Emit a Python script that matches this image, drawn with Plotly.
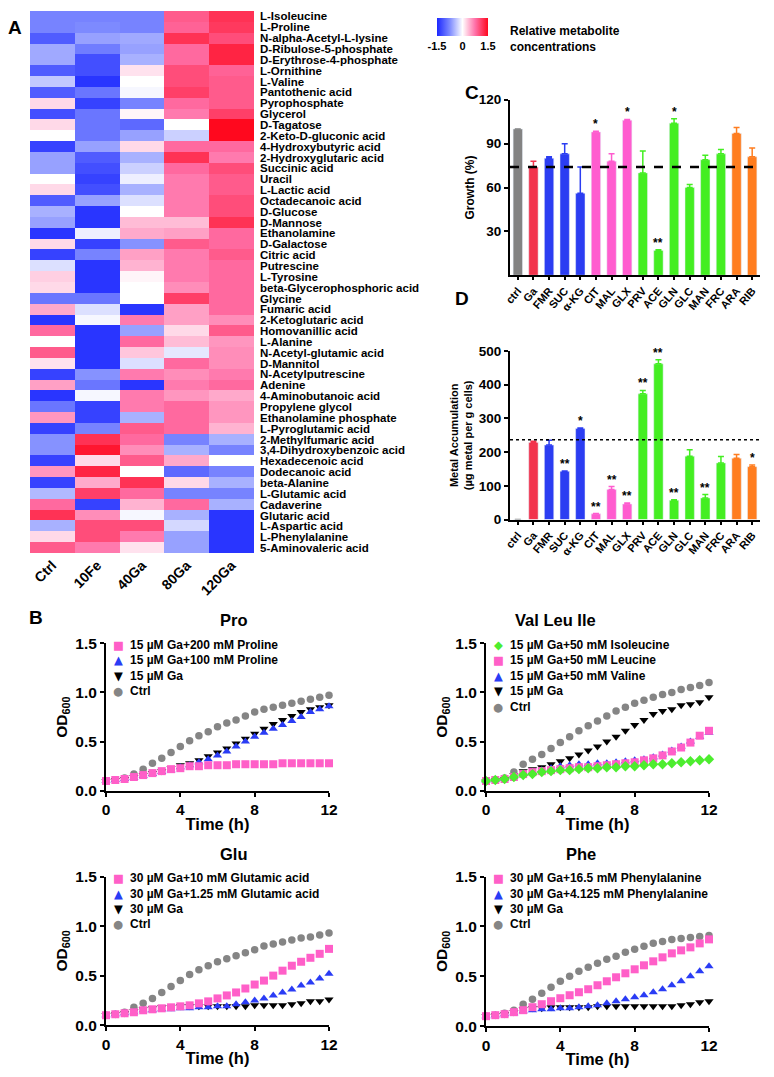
import plotly.graph_objects as go

PAGE_W, PAGE_H = 774, 1077
OFF = 8  # the page body margin shifts the figure by 8 px
W, H = PAGE_W - OFF, PAGE_H - OFF

# ---------------- A: heatmap ----------------
conditions = ["Ctrl", "10Fe", "40Ga", "80Ga", "120Ga"]
metabolites = [
    "L-Isoleucine", "L-Proline", "N-alpha-Acetyl-L-lysine", "D-Ribulose-5-phosphate",
    "D-Erythrose-4-phosphate", "L-Ornithine", "L-Valine", "Pantothenic acid",
    "Pyrophosphate", "Glycerol", "D-Tagatose", "2-Keto-D-gluconic acid",
    "4-Hydroxybutyric acid", "2-Hydroxyglutaric acid", "Succinic acid", "Uracil",
    "L-Lactic acid", "Octadecanoic acid", "D-Glucose", "D-Mannose", "Ethanolamine",
    "D-Galactose", "Citric acid", "Putrescine", "L-Tyrosine",
    "beta-Glycerophosphoric acid", "Glycine", "Fumaric acid", "2-Ketoglutaric acid",
    "Homovanillic acid", "L-Alanine", "N-Acetyl-glutamic acid", "D-Mannitol",
    "N-Acetylputrescine", "Adenine", "4-Aminobutanoic acid", "Propylene glycol",
    "Ethanolamine phosphate", "L-Pyroglutamic acid", "2-Methylfumaric acid",
    "3,4-Dihydroxybenzoic acid", "Hexadecenoic acid", "Dodecanoic acid", "beta-Alanine",
    "L-Glutamic acid", "Cadaverine", "Glutaric acid", "L-Aspartic acid",
    "L-Phenylalanine", "5-Aminovaleric acid",
]
ctrl_z = [-0.8, -0.8, -1.1, -0.55, -0.55, -1.1, -0.35, -1.1, 0.2, -1.2,
          0.2, 0.0, -1.3, -0.6, -0.6, 0.0, 0.2, -1.1, -0.5, -0.6,
          -1.4, 0.2, -1.3, -0.2, 0.25, 0.2, -0.9, 0.45, -1.4, 0.8,
          0.0, 0.9, 0.15, -1.3, 0.5, -1.4, -0.9, 0.55, -1.3, -0.7,
          -0.7, -1.3, 0.55, -1.3, -0.45, 0.8, 1.2, -0.5, 0.2, 0.9]
fe10_z = [-0.8, -0.75, -0.6, -0.85, -1.2, -1.2, -1.4, -0.9, -1.3, -0.9,
          -0.9, -0.9, -0.6, -1.1, -1.2, -1.3, -1.2, -0.6, -1.4, -1.4,
          -0.1, -1.3, -0.8, -1.4, -1.4, -1.4, -0.9, -0.2, -0.05, -1.4,
          -1.4, -1.4, -1.4, -0.7, -0.9, -0.05, -1.3, -1.3, -0.8, 1.2,
          1.4, 0.2, 1.3, 0.45, 1.1, -1.3, 0.6, 1.0, 1.0, 0.7]
ga40_z = [-0.8, -0.8, -0.55, -0.6, -0.5, 0.15, 0.0, -0.05, -0.8, 0.05,
          -1.0, -0.6, 0.2, -0.5, -0.3, -0.1, -0.5, -0.2, 0.0, 0.35,
          0.45, -0.7, 0.5, 0.4, 0.05, 0.0, 0.0, -1.4, 0.7, -0.6,
          0.8, 0.3, -0.2, 0.7, -1.4, 0.7, 0.7, -0.5, 0.9, 0.8,
          0.6, 0.9, 0.0, 1.2, 0.8, 0.4, -0.05, 1.0, 0.7, 0.15]
ga80_z = [0.9, 0.85, 1.2, 0.8, 0.8, 1.0, 1.0, 1.1, 0.8, 0.7,
          0.0, -0.3, 0.8, 1.2, 0.8, 0.7, 0.7, 0.7, 0.7, 0.35,
          0.5, 0.9, 0.7, 0.7, 0.7, 0.6, 1.1, 0.5, 0.5, 0.2,
          0.35, -0.15, 0.8, 0.6, 0.7, 0.55, 0.8, 0.8, 0.8, -0.8,
          -0.5, 0.45, -1.0, 0.2, -0.8, 0.8, -0.5, -0.25, -0.6, -0.6]
ga120_z = [1.2, 1.15, 1.0, 1.3, 1.3, 0.85, 0.9, 0.9, 0.9, 1.1,
           1.5, 1.5, 0.8, 0.7, 1.0, 0.9, 0.9, 1.0, 1.0, 1.2,
           0.8, 0.8, 0.9, 0.8, 0.8, 0.8, 0.8, 0.8, 0.6, 0.9,
           0.55, 0.6, 0.6, 0.7, 0.8, 0.45, 0.55, 0.55, 0.4, -0.5,
           -0.8, 0.0, -0.8, -0.5, -0.8, -0.5, -1.4, -1.4, -1.4, -1.4]

# ---------------- C / D: bar charts ----------------
treatments = ["ctrl", "Ga", "FMR", "SUC", "α-KG", "CIT", "MAL", "GLX",
              "PRV", "ACE", "GLN", "GLC", "MAN", "FRC", "ARA", "RIB"]
bar_colors = ["#838383", "#f2334c", "#2b3df2", "#2b3df2", "#2b3df2",
              "#ff5ccf", "#ff5ccf", "#ff5ccf", "#44ee22", "#44ee22",
              "#44ee22", "#44ee22", "#44ee22", "#44ee22", "#ff7d1f", "#ff7d1f"]
growth = [100, 74, 80, 83, 56, 98, 78, 106, 70, 17, 104, 60, 79, 83, 97, 81]
growth_err = [0, 4, 1, 7, 18, 0.5, 5, 0.5, 15, 0.5, 3, 2, 3, 3, 4, 6]
growth_sig = ["", "", "", "", "", "*", "", "*", "", "**", "*", "", "", "", "", ""]
growth_ref = 74
metal = [0, 229, 221, 143, 270, 17, 89, 46, 373, 462, 57, 188, 64, 168, 182, 157]
metal_err = [0, 3, 14, 1, 2, 1, 9, 3, 10, 12, 2, 19, 10, 19, 11, 5]
metal_sig = ["", "", "", "**", "*", "**", "**", "**", "**", "**", "**", "", "**", "", "", "*"]
metal_ref = 237

# ---------------- B: growth curves ----------------
time_h = [0, 0.5, 1, 1.5, 2, 2.5, 3, 3.5, 4, 4.5, 5, 5.5, 6, 6.5, 7, 7.5,
          8, 8.5, 9, 9.5, 10, 10.5, 11, 11.5, 12]

pro_p200 = [0.10, 0.11, 0.12, 0.14, 0.16, 0.18, 0.20, 0.22, 0.23, 0.25, 0.25, 0.26, 0.26,
            0.26, 0.27, 0.27, 0.27, 0.27, 0.27, 0.28, 0.28, 0.28, 0.28, 0.28, 0.28]
pro_p100 = [0.10, 0.11, 0.12, 0.13, 0.15, 0.17, 0.19, 0.21, 0.24, 0.26, 0.29, 0.32, 0.36,
            0.40, 0.45, 0.50, 0.55, 0.59, 0.63, 0.67, 0.71, 0.75, 0.80, 0.83, 0.86]
pro_ga = [0.10, 0.11, 0.12, 0.14, 0.16, 0.18, 0.20, 0.23, 0.26, 0.28, 0.31, 0.35, 0.39,
          0.43, 0.48, 0.53, 0.58, 0.63, 0.68, 0.72, 0.76, 0.80, 0.83, 0.85, 0.87]
pro_ctrl = [0.10, 0.11, 0.13, 0.17, 0.22, 0.28, 0.33, 0.39, 0.45, 0.51, 0.56, 0.60, 0.65,
            0.69, 0.72, 0.76, 0.80, 0.83, 0.85, 0.87, 0.89, 0.91, 0.93, 0.95, 0.97]

vli_ile = [0.10, 0.11, 0.12, 0.14, 0.16, 0.17, 0.19, 0.20, 0.21, 0.21, 0.22, 0.23, 0.23,
           0.24, 0.24, 0.25, 0.25, 0.26, 0.27, 0.27, 0.28, 0.29, 0.30, 0.31, 0.32]
vli_leu = [0.10, 0.11, 0.12, 0.14, 0.17, 0.19, 0.20, 0.21, 0.22, 0.23, 0.24, 0.24, 0.25,
           0.26, 0.27, 0.28, 0.29, 0.31, 0.33, 0.36, 0.40, 0.44, 0.49, 0.56, 0.61]
vli_val = [0.10, 0.11, 0.12, 0.14, 0.17, 0.19, 0.21, 0.23, 0.25, 0.26, 0.27, 0.27, 0.28,
           0.28, 0.29, 0.30, 0.31, 0.32, 0.34, 0.37, 0.41, 0.45, 0.50, 0.55, 0.59]
vli_ga = [0.10, 0.11, 0.12, 0.16, 0.20, 0.22, 0.24, 0.27, 0.30, 0.33, 0.37, 0.41, 0.45,
          0.50, 0.55, 0.61, 0.67, 0.72, 0.78, 0.81, 0.83, 0.87, 0.88, 0.90, 0.95]
vli_ctrl = [0.10, 0.11, 0.13, 0.19, 0.27, 0.32, 0.37, 0.43, 0.49, 0.55, 0.61, 0.66, 0.71,
            0.76, 0.81, 0.85, 0.89, 0.92, 0.95, 0.98, 1.00, 1.03, 1.05, 1.07, 1.10]

glu_g10 = [0.10, 0.11, 0.12, 0.13, 0.15, 0.16, 0.17, 0.18, 0.19, 0.20, 0.22, 0.24, 0.27,
           0.30, 0.33, 0.37, 0.41, 0.45, 0.50, 0.55, 0.60, 0.64, 0.68, 0.72, 0.77]
glu_g125 = [0.10, 0.11, 0.12, 0.13, 0.15, 0.15, 0.16, 0.16, 0.17, 0.17, 0.18, 0.18, 0.19,
            0.19, 0.21, 0.23, 0.25, 0.27, 0.30, 0.33, 0.36, 0.40, 0.43, 0.47, 0.52]
glu_ga = [0.10, 0.11, 0.12, 0.14, 0.16, 0.17, 0.18, 0.18, 0.19, 0.19, 0.19, 0.19, 0.19,
          0.19, 0.19, 0.19, 0.20, 0.20, 0.20, 0.20, 0.21, 0.22, 0.24, 0.24, 0.26]
glu_ctrl = [0.10, 0.11, 0.13, 0.18, 0.22, 0.27, 0.33, 0.39, 0.45, 0.51, 0.56, 0.60, 0.64,
            0.67, 0.70, 0.73, 0.76, 0.80, 0.82, 0.84, 0.86, 0.88, 0.89, 0.91, 0.93]

phe_f16 = [0.10, 0.11, 0.12, 0.14, 0.16, 0.19, 0.22, 0.25, 0.28, 0.31, 0.34, 0.37, 0.41,
           0.45, 0.49, 0.53, 0.57, 0.61, 0.65, 0.69, 0.73, 0.76, 0.79, 0.83, 0.87]
phe_f4 = [0.10, 0.11, 0.12, 0.13, 0.15, 0.16, 0.17, 0.17, 0.18, 0.18, 0.19, 0.20, 0.21,
          0.23, 0.25, 0.27, 0.29, 0.31, 0.34, 0.37, 0.41, 0.45, 0.50, 0.55, 0.60]
phe_ga = [0.10, 0.11, 0.12, 0.14, 0.17, 0.18, 0.18, 0.19, 0.19, 0.19, 0.19, 0.19, 0.20,
          0.20, 0.20, 0.20, 0.20, 0.20, 0.20, 0.20, 0.20, 0.21, 0.22, 0.24, 0.25]
phe_ctrl = [0.10, 0.11, 0.13, 0.16, 0.22, 0.27, 0.33, 0.39, 0.45, 0.50, 0.55, 0.59, 0.63,
            0.67, 0.70, 0.74, 0.77, 0.80, 0.83, 0.85, 0.87, 0.88, 0.89, 0.90, 0.91]

PINK, BLUE, BLACK, GRAY, GREEN = "#ff5fc8", "#2a3cf5", "#000000", "#858585", "#4ded2f"
GLYPH = {"square": "■", "triangle-up": "▲", "triangle-down": "▼", "circle": "●", "diamond": "◆"}

# (title, axis number, x/y box in page px, series)
growth_panels = [
    ("Pro", 4, (106, 329, 642, 790), [
        ("15 µM Ga+200 mM Proline", pro_p200, "square", PINK),
        ("15 µM Ga+100 mM Proline", pro_p100, "triangle-up", BLUE),
        ("15 µM Ga", pro_ga, "triangle-down", BLACK),
        ("Ctrl", pro_ctrl, "circle", GRAY)]),
    ("Val Leu Ile", 5, (486, 709, 642, 790), [
        ("15 µM Ga+50 mM Isoleucine", vli_ile, "diamond", GREEN),
        ("15 µM Ga+50 mM Leucine", vli_leu, "square", PINK),
        ("15 µM Ga+50 mM Valine", vli_val, "triangle-up", BLUE),
        ("15 µM Ga", vli_ga, "triangle-down", BLACK),
        ("Ctrl", vli_ctrl, "circle", GRAY)]),
    ("Glu", 6, (106, 329, 876, 1025), [
        ("30 µM Ga+10 mM Glutamic acid", glu_g10, "square", PINK),
        ("30 µM Ga+1.25 mM Glutamic acid", glu_g125, "triangle-up", BLUE),
        ("30 µM Ga", glu_ga, "triangle-down", BLACK),
        ("Ctrl", glu_ctrl, "circle", GRAY)]),
    ("Phe", 7, (486, 709, 876, 1026), [
        ("30 µM Ga+16.5 mM Phenylalanine", phe_f16, "square", PINK),
        ("30 µM Ga+4.125 mM Phenylalanine", phe_f4, "triangle-up", BLUE),
        ("30 µM Ga", phe_ga, "triangle-down", BLACK),
        ("Ctrl", phe_ctrl, "circle", GRAY)]),
]


# page pixel -> paper fraction helpers
def px(x):
    return (x - OFF) / W


def py(y):
    return 1 - (y - OFF) / H


def xdom(a, b):
    return [max(px(a), 0), min(px(b), 1)]


def ydom(top, bot):
    return [max(py(bot), 0), min(py(top), 1)]


axis_line = dict(showline=True, linecolor="black", linewidth=2, ticks="outside",
                 tickcolor="black", tickwidth=2, ticklen=4, showgrid=False, zeroline=False,
                 automargin=False)

fig = go.Figure()
annotations = []
shapes = []
layout = {}

# --- heatmap
z = [list(r) for r in zip(ctrl_z, fe10_z, ga40_z, ga80_z, ga120_z)]
fig.add_trace(go.Heatmap(
    z=z, x=conditions, y=metabolites, zmin=-1.5, zmax=1.5, xaxis="x", yaxis="y",
    colorscale=[[0, "rgb(28,40,255)"], [0.25, "rgb(125,138,255)"], [0.5, "rgb(255,255,255)"],
                [0.75, "rgb(255,112,168)"], [1, "rgb(255,8,30)"]],
    colorbar=dict(orientation="h", x=px(462.5), xanchor="center", y=py(30), yanchor="middle",
                  len=71 / W, lenmode="fraction", thickness=18, outlinewidth=0, ticks="",
                  tickvals=[-1.5, 0, 1.5], ticktext=["-1.5", "0", "1.5"],
                  tickfont=dict(size=11)),
))
layout["xaxis"] = dict(domain=xdom(30, 254), anchor="y", tickangle=-45, ticks="",
                       showgrid=False, tickfont=dict(size=14), automargin=False)
layout["yaxis"] = dict(domain=ydom(8, 552), anchor="x", side="right", autorange="reversed",
                       ticks="", showgrid=False, tickmode="array", tickvals=metabolites,
                       tickfont=dict(size=11.5), ticklabelstandoff=5, automargin=False)
annotations.append(dict(x=px(508), y=py(19), xref="paper", yref="paper", xanchor="left",
                        yanchor="top", align="left", showarrow=False,
                        text="Relative metabolite<br>concentrations", font=dict(size=12)))


# --- bar panels C and D
def bar_panel(n, vals, errs, sigs, ref, dash, dash_w, box, yrange, ytickvals, ytitle, ysize,
              standoff):
    ax = str(n)
    for t, v, e, c in zip(treatments, vals, errs, bar_colors):
        fig.add_trace(go.Bar(
            x=[t], y=[v], marker_color=c, width=0.6, xaxis="x" + ax, yaxis="y" + ax,
            error_y=dict(type="data", array=[e], arrayminus=[0], symmetric=False,
                         color=c, thickness=1.5, width=3),
            showlegend=False))
    for t, v, e, s in zip(treatments, vals, errs, sigs):
        if s:
            annotations.append(dict(x=t, y=v + e, xref="x" + ax, yref="y" + ax, text=s,
                                    showarrow=False, yanchor="bottom", yshift=-2,
                                    font=dict(size=12)))
    shapes.append(dict(type="line", xref="x" + ax + " domain", yref="y" + ax, x0=0, x1=1,
                       y0=ref, y1=ref, line=dict(color="black", width=dash_w, dash=dash)))
    layout["xaxis" + ax] = dict(axis_line, domain=xdom(box[0], box[1]), anchor="y" + ax,
                                tickangle=-50, ticklen=3, tickwidth=1.5,
                                categoryorder="array", categoryarray=treatments,
                                range=[-0.5, len(treatments) - 0.5], tickfont=dict(size=11))
    layout["yaxis" + ax] = dict(axis_line, domain=ydom(box[2], box[3]), anchor="x" + ax,
                                range=yrange, tickvals=ytickvals, tickfont=dict(size=13.5),
                                title=dict(text=ytitle, font=dict(size=ysize),
                                           standoff=standoff))


bar_panel(2, growth, growth_err, growth_sig, growth_ref, "dash", 2.5,
          (510, 760, 97, 273), [0, 120], [30, 60, 90, 120], "Growth (%)", 12, 2)
bar_panel(3, metal, metal_err, metal_sig, metal_ref, "dot", 1.5,
          (510, 760, 349, 518), [0, 500], [0, 100, 200, 300, 400, 500],
          "Metal Accumulation<br>(µg metal per g cells)", 11, 4)

# --- growth curves B
for title, n, box, series in growth_panels:
    ax = str(n)
    for name, ys, sym, col in series[::-1]:
        fig.add_trace(go.Scatter(
            x=time_h, y=ys, mode="markers", name=name, xaxis="x" + ax, yaxis="y" + ax,
            cliponaxis=False, showlegend=False,
            marker=dict(symbol=sym, color=col, size=7.5 if sym == "circle" else 8,
                        line=dict(width=0))))
    layout["xaxis" + ax] = dict(axis_line, domain=xdom(box[0], box[1]), anchor="y" + ax,
                                range=[0, 12], tickvals=[0, 4, 8, 12],
                                tickfont=dict(size=15.5),
                                title=dict(text="Time (h)", font=dict(size=16.5), standoff=1))
    layout["yaxis" + ax] = dict(axis_line, domain=ydom(box[2], box[3]), anchor="x" + ax,
                                range=[0, 1.5], tickvals=[0, 0.5, 1.0, 1.5],
                                ticktext=["0.0", "0.5", "1.0", "1.5"],
                                tickfont=dict(size=15.5),
                                title=dict(text="OD<sub>600</sub>", font=dict(size=15.5),
                                           standoff=4))
    annotations.append(dict(x=px((box[0] + box[1]) / 2), y=py(box[2] - 12), xref="paper",
                            yref="paper", text=title, showarrow=False, yanchor="bottom",
                            font=dict(size=16.5)))
    # legend drawn as text rows
    for i, (name, ys, sym, col) in enumerate(series):
        yy = py(box[2] + 1.5 + i * 15.5)
        annotations.append(dict(x=px(box[0] + 12), y=yy, xref="paper", yref="paper",
                                text=GLYPH[sym], showarrow=False, xanchor="center",
                                yanchor="middle", font=dict(size=11.5, color=col,
                                                            family="DejaVu Sans")))
        annotations.append(dict(x=px(box[0] + 22), y=yy, xref="paper", yref="paper",
                                text=name, showarrow=False, xanchor="left",
                                yanchor="middle", font=dict(size=12)))

# panel letters
for letter, x, y in [("A", 15, 25), ("B", 36, 616), ("C", 472, 90), ("D", 462, 296)]:
    annotations.append(dict(x=px(x), y=py(y), xref="paper", yref="paper", text=letter,
                            showarrow=False, xanchor="center", yanchor="middle",
                            font=dict(size=19)))

fig.update_layout(
    width=W, height=H, margin=dict(l=0, r=0, t=0, b=0),
    paper_bgcolor="white", plot_bgcolor="white", barmode="overlay", showlegend=False,
    font=dict(family="Liberation Sans, Arial", size=12, color="black", weight="bold"),
    annotations=annotations, shapes=shapes, **layout,
)

fig.write_html("out.html")
